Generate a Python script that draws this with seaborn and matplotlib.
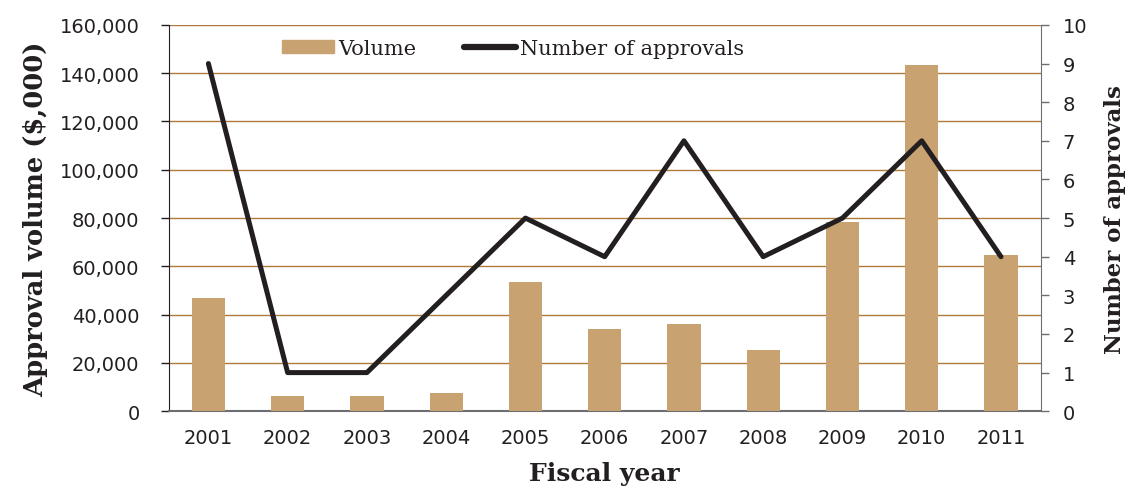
import matplotlib
matplotlib.use("Agg")
import matplotlib.pyplot as plt
import matplotlib.patches as mpatches
import matplotlib.lines as mlines
from matplotlib.ticker import FuncFormatter
import seaborn as sns
import pandas as pd

# values
years = ['2001', '2002', '2003', '2004', '2005', '2006', '2007', '2008', '2009', '2010', '2011']
volume = [47000, 6200, 6300, 7500, 53500, 34000, 36000, 25300, 78500, 143400, 64800]
approvals = [9, 1, 1, 3, 5, 4, 7, 4, 5, 7, 4]

df = pd.DataFrame({'Fiscal year': years, 'Volume': volume, 'Approvals': approvals})

bar_color = '#c9a272'
line_color = '#231f20'
grid_color = '#b07a3a'
tick_font = 'DejaVu Sans'
label_font = 'DejaVu Serif'

sns.set_style('white')
fig = plt.figure(figsize=(11.25, 4.89), dpi=100)
ax = fig.add_axes([0.150, 0.157, 0.775, 0.790])

sns.barplot(data=df, x='Fiscal year', y='Volume', color=bar_color, width=0.42,
            saturation=1, linewidth=0, ax=ax, zorder=3)
ax.set_ylim(0, 160000)
ax.set_yticks(range(0, 160001, 20000))
ax.yaxis.set_major_formatter(FuncFormatter(lambda v, p: f'{int(v):,}'))
ax.grid(axis='y', color=grid_color, linewidth=1, zorder=0)
ax.set_axisbelow(True)

ax2 = ax.twinx()
sns.lineplot(data=df, x='Fiscal year', y='Approvals', color=line_color, linewidth=3.6,
             ax=ax2, sort=False)
ax2.set_ylim(0, 10)
ax2.set_yticks(range(0, 11))
ax2.set_xlim(-0.5, len(years) - 0.5)
ax.set_xlim(-0.5, len(years) - 0.5)

for a in (ax, ax2):
    for s in a.spines.values():
        s.set_visible(False)
ax.spines['left'].set_visible(True)
ax.spines['left'].set_color('#231f20')
ax.spines['bottom'].set_visible(True)
ax.spines['bottom'].set_color('#6d6e71')
ax.spines['bottom'].set_linewidth(1.5)
ax2.spines['right'].set_visible(True)
ax2.spines['right'].set_color('#6d6e71')

ax.tick_params(axis='y', direction='out', length=6, width=1, color='#231f20', left=True,
               pad=15)
ax.tick_params(axis='x', length=0, pad=12)
ax2.tick_params(axis='y', direction='out', length=6, width=1, color='#6d6e71', right=True,
                pad=10)
for lab in ax.get_xticklabels() + ax.get_yticklabels() + ax2.get_yticklabels():
    lab.set_fontfamily(tick_font)
    lab.set_fontsize(14)
    lab.set_color('#231f20')

ax.set_xlabel('Fiscal year', fontfamily=label_font, fontweight='bold', fontsize=18,
              color='#231f20', labelpad=10)
ax.set_ylabel('Approval volume ($,000)', fontfamily=label_font, fontweight='bold',
              fontsize=18.5, color='#231f20', labelpad=8)
ax2.set_ylabel('Number of approvals', fontfamily=label_font, fontweight='bold',
               fontsize=16.5, color='#231f20', labelpad=12)

handles = [mpatches.Patch(color=bar_color, label='Volume'),
           mlines.Line2D([], [], color=line_color, linewidth=4.5, solid_capstyle='round',
                         label='Number of approvals')]
leg = ax2.legend(handles=handles, loc='center', bbox_to_anchor=(0.395, 0.94), ncol=2,
                 frameon=False, handlelength=2.5, handleheight=0.6, handletextpad=0.2,
                 columnspacing=2.3, prop={'family': label_font, 'size': 15})
for t in leg.get_texts():
    t.set_color('#231f20')

fig.savefig('out.png', dpi=100)
